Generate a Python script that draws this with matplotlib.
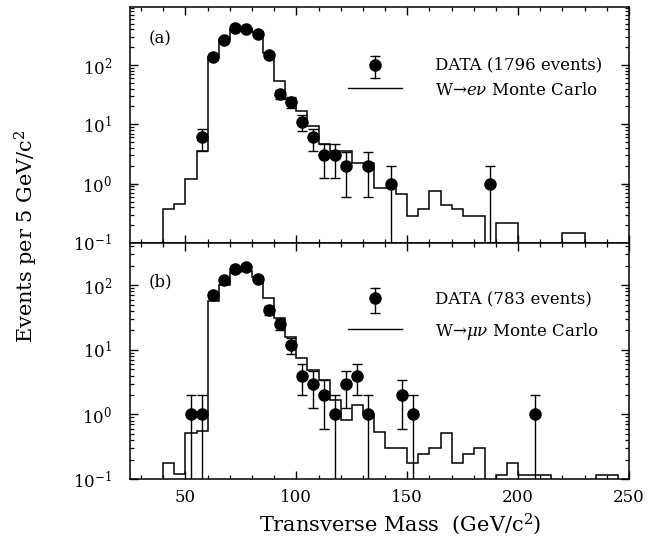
import matplotlib
matplotlib.use("Agg")
import matplotlib.pyplot as plt
import numpy as np
from matplotlib.ticker import MultipleLocator, LogLocator, NullFormatter

plt.rcParams["font.family"] = ["DejaVu Serif"]
plt.rcParams["mathtext.fontset"] = "dejavuserif"

# (a) electron channel: data points (bin centres, counts)
mass_a = [57.5, 62.5, 67.5, 72.5, 77.5, 82.5, 87.5, 92.5, 97.5, 102.5,
          107.5, 112.5, 117.5, 122.5, 132.5, 142.5, 187.5]
events_a = [6, 135, 265, 415, 410, 330, 150, 32, 24, 11, 6, 3, 3, 2, 2, 1, 1]

# (a) W -> e nu Monte Carlo, 5 GeV bins starting at 40
mc_edges_a = np.arange(40, 235, 5)
mc_a = [0.38, 0.46, 1.2, 3.5, 134, 270, 410, 400, 360, 160,
        54, 27, 17, 9.2, 4.6, 3.5, 3.5, 2.2, 2.2, 0.85,
        0.85, 0.68, 0.29, 0.38, 0.74, 0.44, 0.38, 0.29, 0.29, 0,
        0.22, 0.22, 0, 0, 0, 0, 0.145, 0.145]

# (b) muon channel: data points
mass_b = [52.5, 57.5, 62.5, 67.5, 72.5, 77.5, 82.5, 87.5, 92.5, 97.5,
          102.5, 107.5, 112.5, 117.5, 122.5, 127.5, 132.5, 147.5, 152.5, 207.5]
events_b = [1, 1, 70, 120, 175, 190, 125, 41, 25, 12, 4, 3, 2, 1, 3, 4, 1, 2, 1, 1]

# (b) W -> mu nu Monte Carlo, 5 GeV bins starting at 40
mc_edges_b = np.arange(40, 250, 5)
mc_b = [0.18, 0.12, 0.52, 0.56, 56, 100, 160, 165, 135, 64,
        31, 15.5, 7.5, 4.8, 3.4, 1.7, 0.82, 1.4, 1.0, 0.54,
        0.30, 0.30, 0.18, 0.24, 0.30, 0.52, 0.18, 0.24, 0.30, 0,
        0.117, 0.177, 0.117, 0.117, 0.117, 0, 0, 0, 0, 0.117, 0.117]

fig = plt.figure(figsize=(6.61, 5.39), dpi=100)
ax1 = fig.add_axes([0.1967, 0.5492, 0.7549, 0.4378])
ax2 = fig.add_axes([0.1967, 0.1113, 0.7549, 0.4379], sharex=ax1)


def draw_panel(ax, mass, events, edges, mc, ymax):
    ax.set_yscale("log", nonpositive="clip")
    ax.stairs(mc, edges, baseline=0, color="k", lw=1.1)
    n = np.array(events, dtype=float)
    err = np.sqrt(n)
    ax.errorbar(mass, n, yerr=[err, err], fmt="o", color="k", ms=8,
                capsize=3.5, elinewidth=1.0, capthick=1.0)
    ax.set_xlim(25, 250)
    ax.set_ylim(0.1, ymax)
    ax.xaxis.set_major_locator(MultipleLocator(50))
    ax.xaxis.set_minor_locator(MultipleLocator(10))
    ax.yaxis.set_minor_locator(LogLocator(base=10, subs=np.arange(2, 10), numticks=20))
    ax.yaxis.set_minor_formatter(NullFormatter())
    ax.tick_params(which="both", direction="in", top=True, right=True, labelsize=12)
    ax.tick_params(which="major", length=6, width=1)
    ax.tick_params(which="minor", length=3, width=0.9)
    ax.tick_params(axis="y", pad=13)
    ax.tick_params(axis="x", pad=7)
    for s in ax.spines.values():
        s.set_linewidth(1.1)


def draw_key(ax, ym, ye_lo, ye_hi, yl, yt1, yt2, label1, label2):
    tr = ax.transAxes
    ax.plot([0.491, 0.491], [ye_lo, ye_hi], color="k", lw=1, transform=tr)
    ax.plot([0.491, 0.491], [ye_lo, ye_hi], ls="none", marker="_", ms=7,
            color="k", mew=1, transform=tr)
    ax.plot([0.491], [ym], "o", color="k", ms=8, transform=tr)
    ax.plot([0.436, 0.545], [yl, yl], color="k", lw=1, transform=tr)
    ax.text(0.611, yt1, label1, transform=tr, va="center", ha="left", fontsize=12)
    ax.text(0.611, yt2, label2, transform=tr, va="center", ha="left", fontsize=12)


draw_panel(ax1, mass_a, events_a, mc_edges_a, mc_a, 950)
draw_panel(ax2, mass_b, events_b, mc_edges_b, mc_b, 450)
plt.setp(ax1.get_xticklabels(), visible=False)

draw_key(ax1, 0.754, 0.699, 0.792, 0.657, 0.754, 0.648,
         "DATA (1796 events)", "W\u2192$e\\nu$ Monte Carlo")
draw_key(ax2, 0.767, 0.703, 0.809, 0.636, 0.758, 0.627,
         "DATA (783 events)", "W\u2192$\\mu\\nu$ Monte Carlo")

ax1.text(0.038, 0.864, "(a)", transform=ax1.transAxes, va="center", fontsize=12)
ax2.text(0.038, 0.835, "(b)", transform=ax2.transAxes, va="center", fontsize=12)

fig.text(0.04, 0.562, "Events per 5 GeV/c$^2$", rotation=90, va="center",
         ha="center", fontsize=15)
fig.text(0.605, 0.028, "Transverse Mass  (GeV/c$^2$)", va="center",
         ha="center", fontsize=15)

fig.savefig("out.png", dpi=100)
